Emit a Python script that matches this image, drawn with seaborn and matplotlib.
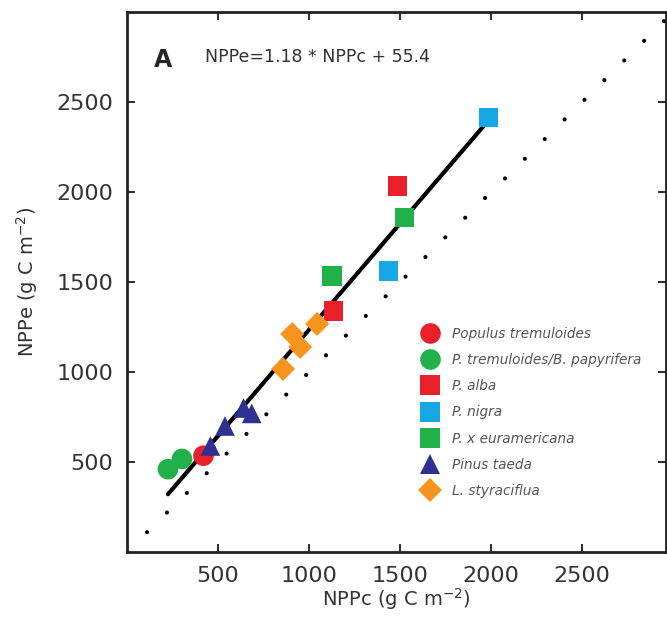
import numpy as np
import pandas as pd
import seaborn as sns
import matplotlib.pyplot as plt

# species, in legend order
species = ['Populus tremuloides', 'P. tremuloides/B. papyrifera', 'P. alba',
           'P. nigra', 'P. x euramericana', 'Pinus taeda', 'L. styraciflua']

# NPPc / NPPe values (g C m-2)
npp_c = {
    'Populus tremuloides': [420],
    'P. tremuloides/B. papyrifera': [225, 302],
    'P. alba': [1132, 1484],
    'P. nigra': [1434, 1985],
    'P. x euramericana': [1126, 1522],
    'Pinus taeda': [458, 538, 640, 685],
    'L. styraciflua': [857, 907, 951, 1044],
}
npp_e = {
    'Populus tremuloides': [535],
    'P. tremuloides/B. papyrifera': [460, 517],
    'P. alba': [1339, 2033],
    'P. nigra': [1561, 2415],
    'P. x euramericana': [1533, 1856],
    'Pinus taeda': [589, 700, 800, 770],
    'L. styraciflua': [1017, 1211, 1139, 1267],
}

colors = ['#e8202a', '#22b04b', '#e8202a', '#17a7e6', '#22b04b', '#2e3192', '#f7941d']
markers = ['o', 'o', 's', 's', 's', '^', 'D']
msizes = [220, 220, 190, 190, 190, 200, 150]

slope, intercept = 1.18, 55.4
fit_range = [225, 1990]
ticks = [500, 1000, 1500, 2000, 2500]

rows = []
for sp in species:
    for c, e in zip(npp_c[sp], npp_e[sp]):
        rows.append({'species': sp, 'NPPc': c, 'NPPe': e})
df = pd.DataFrame(rows)

sns.set_style('ticks')
plt.rcParams['font.family'] = ['DejaVu Sans']

fig = plt.figure(figsize=(6.67, 6.18), dpi=100)
ax = fig.add_axes([127 / 667, 66 / 618, 539 / 667, 540 / 618])

# 1:1 reference line (dotted)
one = np.array([110, 2950])
ax.plot(one, one, color='black', lw=3, linestyle=(0, (0.01, 6.7)),
        dash_capstyle='round', zorder=1)

# regression line
fx = np.array(fit_range)
ax.plot(fx, slope * fx + intercept, color='black', lw=3, zorder=2)

sns.scatterplot(data=df, x='NPPc', y='NPPe', hue='species', style='species',
                size='species',
                hue_order=species, style_order=species, size_order=species,
                palette=dict(zip(species, colors)),
                markers=dict(zip(species, markers)),
                sizes=dict(zip(species, msizes)),
                linewidth=0, ax=ax, zorder=3)

ax.set_xlim(0, 2960)
ax.set_ylim(0, 3000)
ax.set_xticks(ticks)
ax.set_yticks(ticks)
ax.tick_params(direction='in', length=6, width=1.5, top=True, right=True,
               labelsize=16, colors='#333333', labelcolor='#333333', pad=10)
for s in ax.spines.values():
    s.set_linewidth(2)
    s.set_color('#222222')

ax.set_xlabel('NPPc (g C m$^{-2}$)', fontsize=14, color='#333333', labelpad=0)
ax.set_ylabel('NPPe (g C m$^{-2}$)', fontsize=14, color='#333333', labelpad=12)

ax.text(0.05, 0.912, 'A', transform=ax.transAxes, fontsize=17,
        fontweight='bold', va='center', ha='left')
ax.text(0.145, 0.917, 'NPPe=1.18 * NPPc + 55.4', transform=ax.transAxes,
        fontsize=12.5, color='#333333', va='center', ha='left')

ax.legend(loc='upper left', bbox_to_anchor=(0.525, 0.43), frameon=False,
          prop={'style': 'italic', 'size': 9.8}, labelcolor='#555555',
          labelspacing=0.9, handletextpad=0.6, borderpad=0)

fig.savefig('out.png', dpi=100)
